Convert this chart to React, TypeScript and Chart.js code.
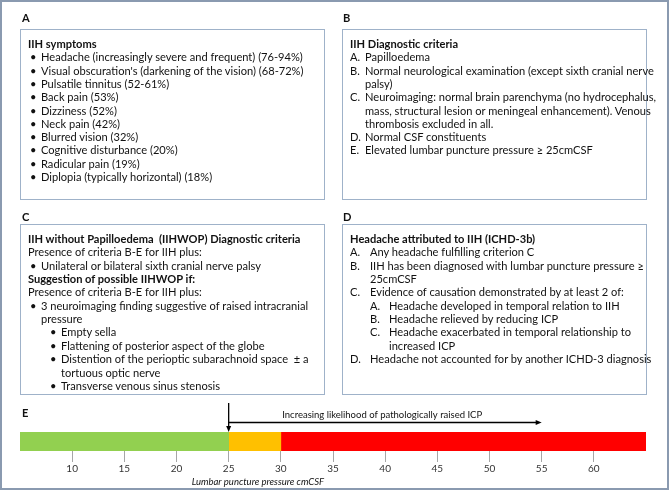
import React, { useEffect, useRef } from 'react';
import { Chart, registerables } from 'chart.js';
Chart.register(...registerables);

// ---------- chart data (panel E) ----------
const categories = ['Lumbar puncture pressure'];
const zoneNames = ['Normal', 'Borderline', 'Raised'];
const zoneStart = [5, 25, 30];
const zoneEnd = [25, 30, 65];
const zoneColors = ['#92d050', '#ffc000', '#ff0000'];
const tickValues = [10, 15, 20, 25, 30, 35, 40, 45, 50, 55, 60];
const axisMin = 5;
const axisMax = 65;
const arrowFrom = 25;
const arrowTo = 55;
const arrowLabel = 'Increasing likelihood of pathologically raised ICP';
const axisTitle = 'Lumbar puncture pressure cmCSF';

// ---------- panel texts ----------
const symptoms = [
  'Headache (increasingly severe and frequent) (76-94%)',
  "Visual obscuration's (darkening of the vision) (68-72%)",
  'Pulsatile tinnitus (52-61%)',
  'Back pain (53%)',
  'Dizziness (52%)',
  'Neck pain (42%)',
  'Blurred vision (32%)',
  'Cognitive disturbance (20%)',
  'Radicular pain (19%)',
  'Diplopia (typically horizontal) (18%)',
];
const criteriaB: [string, string[]][] = [
  ['A.', ['Papilloedema']],
  ['B.', ['Normal neurological examination (except sixth cranial nerve', 'palsy)']],
  ['C.', ['Neuroimaging: normal brain parenchyma (no hydrocephalus,', 'mass, structural lesion or meningeal enhancement). Venous', 'thrombosis excluded in all.']],
  ['D.', ['Normal CSF constituents']],
  ['E.', ['Elevated lumbar puncture pressure \u2265 25cmCSF']],
];
const imagingFindings: string[][] = [
  ['Empty sella'],
  ['Flattening of posterior aspect of the globe'],
  ['Distention of the perioptic subarachnoid space  \u00b1 a', 'tortuous optic nerve'],
  ['Transverse venous sinus stenosis'],
];
const criteriaD: [string, string[]][] = [
  ['A.', ['Any headache fulfilling criterion C']],
  ['B.', ['IIH has been diagnosed with lumbar puncture pressure \u2265', '25cmCSF']],
  ['C.', ['Evidence of causation demonstrated by at least 2 of:']],
];
const causation: [string, string[]][] = [
  ['A.', ['Headache developed in temporal relation to IIH']],
  ['B.', ['Headache relieved by reducing ICP']],
  ['C.', ['Headache exacerbated in temporal relationship to', 'increased ICP']],
];
const criteriaDLast: [string, string[]] = ['D.', ['Headache not accounted for by another ICHD-3 diagnosis']];

const FONT = 'Lato, "Open Sans", "DejaVu Sans", sans-serif';
const TEXT = '#111';
const BOX = '#9fb2c9';

type Part = { x: number; text: string; bold?: boolean };
type Line = Part[];

function place(lines: Line[], y0: number, step: number) {
  const out: React.ReactNode[] = [];
  lines.forEach((ln, i) => {
    const y = y0 + i * step;
    ln.forEach((p, j) => {
      out.push(
        <span
          key={`${y0}-${i}-${j}`}
          style={{
            position: 'absolute', left: p.x, top: y - 7, height: 14, lineHeight: '14px',
            whiteSpace: 'pre', fontWeight: p.bold ? 700 : 400,
          }}
        >{p.text}</span>
      );
    });
  });
  return out;
}

function listLines(items: [string, string[]][], mx: number, tx: number): Line[] {
  const out: Line[] = [];
  items.forEach(([m, ls]) => {
    ls.forEach((t, k) => {
      out.push(k === 0 ? [{ x: mx, text: m }, { x: tx, text: t }] : [{ x: tx, text: t }]);
    });
  });
  return out;
}

const linesA: Line[] = [
  [{ x: 28, text: 'IIH symptoms', bold: true }],
  ...symptoms.map((s) => [{ x: 30, text: '\u2022' }, { x: 41, text: s }]),
];
const linesB: Line[] = [
  [{ x: 350, text: 'IIH Diagnostic criteria', bold: true }],
  ...listLines(criteriaB, 350, 365),
];
const linesC: Line[] = [
  [{ x: 28, text: 'IIH without Papilloedema  (IIHWOP) Diagnostic criteria', bold: true }],
  [{ x: 28, text: 'Presence of criteria B-E for IIH plus:' }],
  [{ x: 30, text: '\u2022' }, { x: 41, text: 'Unilateral or bilateral sixth cranial nerve palsy' }],
  [{ x: 28, text: 'Suggestion of possible IIHWOP if:', bold: true }],
  [{ x: 28, text: 'Presence of criteria B-E for IIH plus:' }],
  [{ x: 30, text: '\u2022' }, { x: 41, text: '3 neuroimaging finding suggestive of raised intracranial' }],
  [{ x: 41, text: 'pressure' }],
  ...listLines(imagingFindings.map((f) => ['\u2022', f] as [string, string[]]), 50, 61),
];
const linesD: Line[] = [
  [{ x: 350, text: 'Headache attributed to IIH (ICHD-3b)', bold: true }],
  ...listLines(criteriaD, 350, 370),
  ...listLines(causation, 370, 389),
  ...listLines([criteriaDLast], 350, 370),
];

const arrowPlugin = {
  id: 'arrows',
  afterDraw(chart: any) {
    const { ctx, chartArea } = chart;
    const xs = chart.scales.x;
    const x0 = xs.getPixelForValue(arrowFrom);
    const x1 = xs.getPixelForValue(arrowTo);
    const top = chartArea.top;
    const hy = top - 9.5;
    ctx.save();
    ctx.strokeStyle = '#000';
    ctx.fillStyle = '#000';
    ctx.lineWidth = 1.3;
    // vertical arrow
    ctx.beginPath();
    ctx.moveTo(x0, top - 29);
    ctx.lineTo(x0, top - 4);
    ctx.stroke();
    ctx.beginPath();
    ctx.moveTo(x0, top);
    ctx.lineTo(x0 - 2.5, top - 6);
    ctx.lineTo(x0 + 2.5, top - 6);
    ctx.closePath();
    ctx.fill();
    // horizontal arrow
    ctx.beginPath();
    ctx.moveTo(x0, hy);
    ctx.lineTo(x1 - 4, hy);
    ctx.stroke();
    ctx.beginPath();
    ctx.moveTo(x1, hy);
    ctx.lineTo(x1 - 6, hy - 2.5);
    ctx.lineTo(x1 - 6, hy + 2.5);
    ctx.closePath();
    ctx.fill();
    // label
    ctx.font = `9.5px ${FONT}`;
    ctx.fillStyle = TEXT;
    ctx.textAlign = 'center';
    ctx.textBaseline = 'middle';
    ctx.fillText(arrowLabel, (x0 + x1) / 2 - 3, top - 17);
    // axis title
    ctx.font = `italic 9.5px ${FONT}`;
    ctx.textAlign = 'center';
    ctx.fillText(axisTitle, xs.getPixelForValue(27.8), chartArea.bottom + 30.5);
    ctx.restore();
  },
};

export default function App() {
  const ref = useRef<HTMLCanvasElement>(null);
  useEffect(() => {
    document.body.style.margin = '0';
    const chart = new Chart(ref.current!, {
      type: 'bar',
      data: {
        labels: categories,
        datasets: zoneNames.map((n, i) => ({
          label: n,
          data: [[zoneStart[i], zoneEnd[i]]] as any,
          backgroundColor: zoneColors[i],
          borderWidth: 0,
          barPercentage: 1,
          categoryPercentage: 1,
          grouped: false,
        })),
      },
      options: {
        indexAxis: 'y',
        animation: false,
        responsive: false,
        layout: { padding: { left: 20, right: 23, top: 432, bottom: 9 } },
        plugins: { legend: { display: false }, tooltip: { enabled: false } },
        scales: {
          x: {
            type: 'linear',
            min: axisMin,
            max: axisMax,
            afterBuildTicks: (s: any) => { s.ticks = tickValues.map((v) => ({ value: v })); },
            afterFit: (s: any) => { s.height = 30; },
            grid: { drawOnChartArea: false, drawTicks: true, tickLength: 11, color: '#a6a6a6' },
            border: { display: false },
            ticks: { padding: 1, color: '#333', font: { family: FONT, size: 10 }, maxRotation: 0, autoSkip: false },
          },
          y: { display: false },
        },
      },
      plugins: [arrowPlugin],
    });
    return () => chart.destroy();
  }, []);

  const box = (l: number, t: number, w: number, h: number) => (
    <div style={{ position: 'absolute', left: l, top: t, width: w, height: h, border: `1px solid ${BOX}`, boxSizing: 'border-box' }} />
  );
  const label = (x: number, y: number, s: string) => (
    <span style={{ position: 'absolute', left: x, top: y - 7, lineHeight: '14px', fontWeight: 700 }}>{s}</span>
  );

  return (
    <div style={{ position: 'fixed', left: 0, top: 0, width: 669, height: 490, background: '#fff', fontFamily: FONT, fontSize: 11.1, color: TEXT, overflow: 'hidden' }}>
      <canvas ref={ref} width={669} height={490} style={{ position: 'absolute', left: 0, top: 0 }} />
      {box(20, 29, 305, 171)}
      {box(342, 29, 305, 171)}
      {box(20, 224, 305, 171)}
      {box(342, 224, 305, 171)}
      {label(22, 18, 'A')}
      {label(343, 18, 'B')}
      {label(22, 217, 'C')}
      {label(343, 217, 'D')}
      {label(22, 413, 'E')}
      {place(linesA, 44, 13.3)}
      {place(linesB, 44, 13.3)}
      {place(linesC, 239, 13.35)}
      {place(linesD, 239, 13.35)}
      <div style={{ position: 'absolute', left: 0, top: 0, width: 669, height: 490, border: '2px solid #8a9ab0', boxSizing: 'border-box' }} />
    </div>
  );
}
